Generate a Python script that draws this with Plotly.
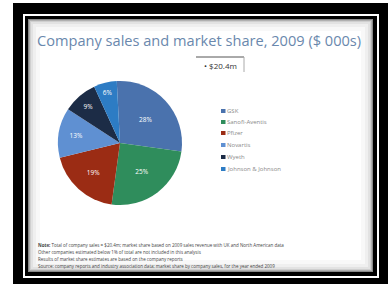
import plotly.graph_objects as go

W, H = 388, 288

companies = ["GSK", "Sanofi-Aventis", "Pfizer", "Novartis", "Wyeth", "Johnson & Johnson"]
shares = [28, 25, 19, 13, 9, 6]
colors = ["#4a72ad", "#2f8d5c", "#9b2c14", "#5f90d2", "#1c2c46", "#2d7cc4"]

title_text = "Company sales and market share, 2009 ($ 000s)"
total_label = "• $20.4m"
notes = [
    "<b>Note:</b> Total of company sales = $20.4m; market share based on 2009 sales revenue with UK and North American data",
    "Other companies estimated below 1% of total are not included in this analysis",
    "Results of market share estimates are based on the company reports",
    "Source: company reports and industry association data; market share by company sales, for the year ended 2009",
]


def px(x):
    return x / W


def py(y):
    return 1 - y / H


fig = go.Figure()
fig.add_trace(go.Pie(
    labels=companies,
    values=shares,
    sort=False,
    direction="clockwise",
    rotation=-3,
    marker=dict(colors=colors, line=dict(width=0)),
    textinfo="percent",
    textposition="inside",
    insidetextorientation="horizontal",
    textfont=dict(size=6.5, color="white", family="Open Sans"),
    domain=dict(x=[px(58), px(182)], y=[py(205), py(81)]),
    showlegend=False,
))

shapes = []
# outer black frame
shapes.append(dict(type="rect", xref="paper", yref="paper", x0=px(13), x1=px(388), y0=py(284), y1=py(3),
                   fillcolor="black", line=dict(width=0), layer="below"))
# white inner line
shapes.append(dict(type="rect", xref="paper", yref="paper", x0=px(24), x1=px(378), y0=py(277), y1=py(15),
                   fillcolor="rgba(0,0,0,0)", line=dict(color="white", width=2), layer="below"))
# slide with vignette
steps = [(0, "#8a8a8a"), (1, "#b0b0b0"), (2, "#cfcfcf"), (3, "#e2e2e2"), (5, "#efefef"), (8, "#f8f8f8"), (12, "#ffffff")]
for d, c in steps:
    shapes.append(dict(type="rect", xref="paper", yref="paper",
                       x0=px(28 + d), x1=px(373 - d), y0=py(272 - d), y1=py(19 + d),
                       fillcolor=c, line=dict(width=0), layer="below"))
# total box
shapes.append(dict(type="line", xref="paper", yref="paper", x0=px(196), x1=px(244), y0=py(57), y1=py(57),
                   line=dict(color="#555555", width=1)))
shapes.append(dict(type="line", xref="paper", yref="paper", x0=px(244), x1=px(244), y0=py(57), y1=py(72),
                   line=dict(color="#aaaaaa", width=1)))

annotations = [
    dict(text=title_text, xref="paper", yref="paper", x=px(35), y=py(40), xanchor="left", yanchor="middle",
         showarrow=False, font=dict(family="Open Sans", size=14.6, color="#6a88ad")),
    dict(text=total_label, xref="paper", yref="paper", x=px(220), y=py(65), xanchor="center", yanchor="middle",
         showarrow=False, font=dict(family="Open Sans", size=8, color="#333333")),
]
for i, t in enumerate(notes):
    annotations.append(dict(text=t, xref="paper", yref="paper", x=px(36), y=py(245 + i * 7), xanchor="left",
                            yanchor="middle", showarrow=False,
                            font=dict(family="Open Sans", size=4.5, color="#444444")))

# compact legend (key) built from the same lists
legend_rows = [111, 122, 133, 145, 157, 169]
for name, col, ry in zip(companies, colors, legend_rows):
    shapes.append(dict(type="rect", xref="paper", yref="paper", x0=px(221), x1=px(225.5),
                       y0=py(ry + 2), y1=py(ry - 2), fillcolor=col, line=dict(width=0)))
    annotations.append(dict(text=name, xref="paper", yref="paper", x=px(225), y=py(ry), xanchor="left",
                            yanchor="middle", showarrow=False,
                            font=dict(family="Open Sans", size=6, color="#8a8a8a")))

fig.update_layout(
    width=W, height=H,
    margin=dict(l=0, r=0, t=0, b=0),
    paper_bgcolor="white",
    plot_bgcolor="white",
    shapes=shapes,
    annotations=annotations,
    showlegend=False,
)

fig.write_html("out.html", config={"displayModeBar": False},
               post_script="document.body.style.margin='0';document.body.style.overflow='hidden';")
